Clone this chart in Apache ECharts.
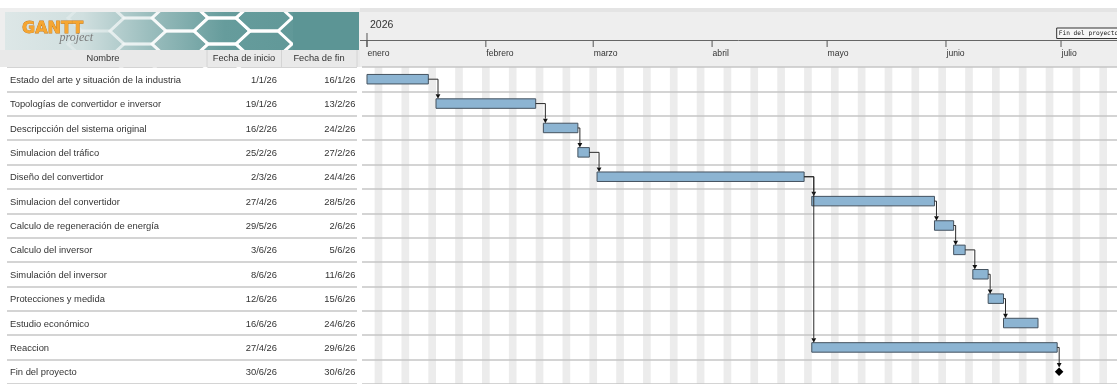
<!DOCTYPE html>
<html>
<head>
<meta charset="utf-8">
<script src="https://cdn.jsdelivr.net/npm/echarts@6/dist/echarts.min.js"></script>
<style>
  html, body { margin: 0; padding: 0; background: #ffffff; }
  #chart { width: 1117px; height: 384px; }
</style>
</head>
<body>
<div id="chart"></div>
<script>
// ---- Project plan ----
const taskNames = [
  'Estado del arte y situación de la industria',
  'Topologías de convertidor e inversor',
  'Descripcción del sistema original',
  'Simulacion del tráfico',
  'Diseño del convertidor',
  'Simulacion del convertidor',
  'Calculo de regeneración de energía',
  'Calculo del inversor',
  'Simulación del inversor',
  'Protecciones y medida',
  'Estudio económico',
  'Reaccion',
  'Fin del proyecto'
];
const startDates = ['1/1/26', '19/1/26', '16/2/26', '25/2/26', '2/3/26', '27/4/26', '29/5/26',
                    '3/6/26', '8/6/26', '12/6/26', '16/6/26', '27/4/26', '30/6/26'];
const endDates   = ['16/1/26', '13/2/26', '24/2/26', '27/2/26', '24/4/26', '28/5/26', '2/6/26',
                    '5/6/26', '11/6/26', '15/6/26', '24/6/26', '29/6/26', '30/6/26'];
const isMilestone = [false, false, false, false, false, false, false,
                     false, false, false, false, false, true];
// [predecessor row, successor row]
const dependencies = [[0, 1], [1, 2], [2, 3], [3, 4], [4, 5], [4, 11], [5, 6],
                      [6, 7], [7, 8], [8, 9], [9, 10], [11, 12]];
const yearLabel = '2026';
const monthNames  = ['enero', 'febrero', 'marzo', 'abril', 'mayo', 'junio', 'julio'];
const monthStarts = ['1/1/26', '1/2/26', '1/3/26', '1/4/26', '1/5/26', '1/6/26', '1/7/26'];
const columnTitles = ['Nombre', 'Fecha de inicio', 'Fecha de fin'];

// ---- helpers ----
const DAY = 86400000;
function parseDate(s) {
  const [d, m, y] = s.split('/').map(Number);
  return Date.UTC(2000 + y, m - 1, d);
}
const origin = parseDate(startDates[0]);
const axisMin = origin - 1.3 * DAY;
const axisMax = axisMin + 196.9 * DAY;

// weekend shading: every Saturday+Sunday in the visible range
const weekendStarts = [];
{
  let t = origin;
  while (new Date(t).getUTCDay() !== 6) t += DAY;
  for (; t < axisMax; t += 7 * DAY) weekendStarts.push([t, 0]);
}

const FONT = '"Liberation Sans", Arial, sans-serif';
const TEXT = '#333333';
const BAR_FILL = '#8cb4d2';
const BAR_EDGE = '#44525f';
const BAR_H = 9.5;
const ROW_TOP = 67;
const ROW_PITCH = 24.7;
const GRID_H = ROW_PITCH * taskNames.length;

const barData = [];
const milestoneData = [];
taskNames.forEach((n, i) => {
  const s = parseDate(startDates[i]);
  const e = parseDate(endDates[i]) + DAY;
  if (isMilestone[i]) milestoneData.push([s, i, n]);
  else barData.push([s, e, i]);
});

const depData = dependencies.map(([a, b]) => [
  parseDate(endDates[a]) + DAY, a, parseDate(startDates[b]), b, isMilestone[b] ? 1 : 0
]);

const monthData = monthStarts.map((m, i) => [parseDate(m), 0, monthNames[i]]);

// ---- banner (logo area) ----
function hexPoints(cx, cy, a, h) {
  return [[cx - a, cy], [cx - a / 2, cy - h / 2], [cx + a / 2, cy - h / 2],
          [cx + a, cy], [cx + a / 2, cy + h / 2], [cx - a / 2, cy + h / 2]];
}
const bannerGraphics = [];
{
  const a = 28, h = 26;
  const colOpacity = [0.25, 0.5, 0.8, 0.95, 1];
  for (let k = 0; k < 5; k++) {
    const cx = 96 + 42 * k;
    const centers = (k % 2 === 0) ? [18, 44] : [5, 31, 57];
    centers.forEach(cy => {
      bannerGraphics.push({
        type: 'polygon', z: 2,
        shape: { points: hexPoints(cx, cy, a, h) },
        style: { fill: null, stroke: 'rgba(255,255,255,' + colOpacity[k] + ')', lineWidth: 3 }
      });
    });
  }
}

const chart = echarts.init(document.getElementById('chart'), null, { renderer: 'canvas' });

const option = {
  animation: false,
  backgroundColor: '#ffffff',
  grid: [
    { left: 362, width: 755, top: ROW_TOP, height: GRID_H },
    { left: 7, width: 350, top: ROW_TOP, height: GRID_H }
  ],
  xAxis: [
    { type: 'time', gridIndex: 0, min: axisMin, max: axisMax, show: false },
    { type: 'value', gridIndex: 1, min: 0, max: 1, show: false }
  ],
  yAxis: [
    {
      type: 'category', gridIndex: 0, inverse: true, data: taskNames, z: 1.5,
      axisLine: { show: false }, axisTick: { show: false }, axisLabel: { show: false },
      splitLine: { show: true, lineStyle: { color: '#c6c6c6', width: 1.5 } }
    },
    {
      type: 'category', gridIndex: 1, inverse: true, data: taskNames, z: 1.5,
      axisLine: { show: false }, axisTick: { show: false }, axisLabel: { show: false },
      splitLine: { show: true, lineStyle: { color: '#c6c6c6', width: 1.5 } }
    }
  ],
  graphic: [
    // header backgrounds
    { type: 'rect', z: 0, shape: { x: 0, y: 8, width: 1117, height: 59 }, style: { fill: '#eeeeee' } },
    { type: 'rect', z: 0, shape: { x: 360, y: 8, width: 757, height: 4 }, style: { fill: '#e4e4e4' } },
    // banner
    {
      type: 'rect', z: 1, shape: { x: 5, y: 12, width: 354, height: 38 },
      style: {
        fill: new echarts.graphic.LinearGradient(0, 0, 1, 0, [
          { offset: 0, color: '#dde7e7' },
          { offset: 0.22, color: '#d0dfdf' },
          { offset: 0.4, color: '#9dbfbf' },
          { offset: 0.62, color: '#669c9c' },
          { offset: 1, color: '#5c9595' }
        ])
      }
    },
    ...bannerGraphics,
    // cover hex overflow around the banner
    { type: 'rect', z: 3, shape: { x: 0, y: 0, width: 360, height: 8 }, style: { fill: '#ffffff' } },
    { type: 'rect', z: 3, shape: { x: 0, y: 8, width: 360, height: 4 }, style: { fill: '#eeeeee' } },
    { type: 'rect', z: 3, shape: { x: 0, y: 50, width: 360, height: 17 }, style: { fill: '#e9e9e9' } },
    { type: 'rect', z: 3, shape: { x: 0, y: 12, width: 5, height: 38 }, style: { fill: '#eeeeee' } },
    { type: 'rect', z: 3, shape: { x: 293, y: 12, width: 66, height: 38 }, style: { fill: '#5c9595' } },
    // logo text
    {
      type: 'text', z: 4, style: {
        x: 22, y: 28.5, text: 'GANTT', font: 'bold 16px "DejaVu Sans", sans-serif',
        fill: '#f6a631', stroke: '#c97a18', lineWidth: 0.8, verticalAlign: 'middle'
      }
    },
    {
      type: 'text', z: 4, style: {
        x: 93, y: 37.5, text: 'project', font: 'italic 12px "Liberation Serif", serif',
        fill: '#7a7a7a', align: 'right', verticalAlign: 'middle'
      }
    },
    // table column header
    { type: 'line', z: 4, shape: { x1: 207, y1: 50, x2: 207, y2: 67 }, style: { stroke: '#d4d4d4', lineWidth: 1 } },
    { type: 'line', z: 4, shape: { x1: 281.5, y1: 50, x2: 281.5, y2: 67 }, style: { stroke: '#d4d4d4', lineWidth: 1 } },
    { type: 'line', z: 4, shape: { x1: 357, y1: 50, x2: 357, y2: 67 }, style: { stroke: '#d4d4d4', lineWidth: 1 } },
    { type: 'text', z: 4, style: { x: 103, y: 58.5, text: columnTitles[0], font: '9.3px ' + FONT, fill: TEXT, align: 'center', verticalAlign: 'middle' } },
    { type: 'text', z: 4, style: { x: 244, y: 58.5, text: columnTitles[1], font: '9.3px ' + FONT, fill: TEXT, align: 'center', verticalAlign: 'middle' } },
    { type: 'text', z: 4, style: { x: 319, y: 58.5, text: columnTitles[2], font: '9.3px ' + FONT, fill: TEXT, align: 'center', verticalAlign: 'middle' } },
    // timeline baseline
    { type: 'line', z: 4, shape: { x1: 360, y1: 40.5, x2: 1117, y2: 40.5 }, style: { stroke: '#666666', lineWidth: 1 } }
  ],
  series: [
    {
      // weekend stripes
      type: 'custom', xAxisIndex: 0, yAxisIndex: 0, z: 1, silent: true,
      data: weekendStarts, encode: { x: 0, y: 1 },
      renderItem(params, api) {
        const t = api.value(0);
        const p0 = api.coord([t, 0]);
        const p1 = api.coord([t + 2 * DAY, 0]);
        const cs = params.coordSys;
        return { type: 'rect', shape: { x: p0[0], y: cs.y, width: p1[0] - p0[0], height: cs.height },
                 style: { fill: '#ececec' } };
      }
    },
    {
      // task bars
      type: 'custom', xAxisIndex: 0, yAxisIndex: 0, z: 3, silent: true,
      data: barData, encode: { x: [0, 1], y: 2 },
      renderItem(params, api) {
        const row = api.value(2);
        const p0 = api.coord([api.value(0), row]);
        const p1 = api.coord([api.value(1), row]);
        return { type: 'rect',
                 shape: { x: p0[0], y: p0[1] - BAR_H / 2, width: p1[0] - p0[0], height: BAR_H },
                 style: { fill: BAR_FILL, stroke: BAR_EDGE, lineWidth: 1 } };
      }
    },
    {
      // milestone diamond and its flag in the timeline header
      type: 'custom', xAxisIndex: 0, yAxisIndex: 0, z: 4, silent: true, clip: false,
      data: milestoneData, encode: { x: 0, y: 1 },
      renderItem(params, api) {
        const s = api.value(0), row = api.value(1);
        const c = api.coord([s + DAY / 2, row]);
        const p = api.coord([s, row]);
        const r = 4.3;
        return {
          type: 'group', children: [
            { type: 'polygon', shape: { points: [[c[0], c[1] - r], [c[0] + r, c[1]], [c[0], c[1] + r], [c[0] - r, c[1]]] },
              style: { fill: '#000000' } },
            { type: 'rect', shape: { x: p[0] - 0.5, y: 28, width: 80, height: 10.5 },
              style: { fill: '#f7f7f7', stroke: '#333333', lineWidth: 1 } },
            { type: 'text', style: { x: p[0] + 1.5, y: 33.5, text: taskNames[row],
              font: '6.2px "DejaVu Sans Mono", monospace', fill: '#222222', verticalAlign: 'middle' } }
          ]
        };
      }
    },
    {
      // dependency connectors
      type: 'custom', xAxisIndex: 0, yAxisIndex: 0, z: 5, silent: true, clip: false,
      data: depData, encode: { x: [0, 2], y: [1, 3] },
      renderItem(params, api) {
        const a = api.coord([api.value(0), api.value(1)]);
        const b = api.coord([api.value(2), api.value(3)]);
        const toMilestone = api.value(4) === 1;
        const xv = Math.max(a[0], b[0]) + 2;
        const yEnd = b[1] - (toMilestone ? 4.3 : BAR_H / 2);
        const ah = 4.5, aw = 2.4;
        return {
          type: 'group', children: [
            { type: 'polyline', shape: { points: [[a[0], a[1]], [xv, a[1]], [xv, yEnd - ah]] },
              style: { stroke: '#2b2b2b', lineWidth: 1, fill: null } },
            { type: 'polygon', shape: { points: [[xv - aw, yEnd - ah], [xv + aw, yEnd - ah], [xv, yEnd]] },
              style: { fill: '#111111' } }
          ]
        };
      }
    },
    {
      // month ticks, month names, year
      type: 'custom', xAxisIndex: 0, yAxisIndex: 0, z: 5, silent: true, clip: false,
      data: monthData, encode: { x: 0, y: 1 },
      renderItem(params, api) {
        const x = api.coord([api.value(0), 0])[0];
        const children = [
          { type: 'line', shape: { x1: x, y1: 40.5, x2: x, y2: 47 }, style: { stroke: '#555555', lineWidth: 1 } },
          { type: 'text', style: { x: x + 0.5, y: 53.5, text: monthNames[params.dataIndex],
            font: '8.6px ' + FONT, fill: TEXT, verticalAlign: 'middle' } }
        ];
        if (params.dataIndex === 0) {
          children.push({ type: 'line', shape: { x1: x, y1: 33, x2: x, y2: 47 }, style: { stroke: '#555555', lineWidth: 1 } });
          children.push({ type: 'text', style: { x: x + 3, y: 25.5, text: yearLabel,
            font: '10.5px ' + FONT, fill: TEXT, verticalAlign: 'middle' } });
        }
        return { type: 'group', children };
      }
    },
    {
      // table rows: name, start, end
      type: 'custom', xAxisIndex: 1, yAxisIndex: 1, z: 4, silent: true, clip: false,
      data: taskNames.map((n, i) => [0, i]), encode: { x: 0, y: 1 },
      renderItem(params, api) {
        const i = api.value(1);
        const y = api.coord([0, i])[1] + 1;
        const f = '9.4px ' + FONT;
        return {
          type: 'group', children: [
            { type: 'text', style: { x: 10, y, text: taskNames[i], font: f, fill: TEXT, verticalAlign: 'middle' } },
            { type: 'text', style: { x: 277, y, text: startDates[i], font: f, fill: TEXT, align: 'right', verticalAlign: 'middle' } },
            { type: 'text', style: { x: 355.5, y, text: endDates[i], font: f, fill: TEXT, align: 'right', verticalAlign: 'middle' } }
          ]
        };
      }
    }
  ]
};

chart.setOption(option);
</script>
</body>
</html>
